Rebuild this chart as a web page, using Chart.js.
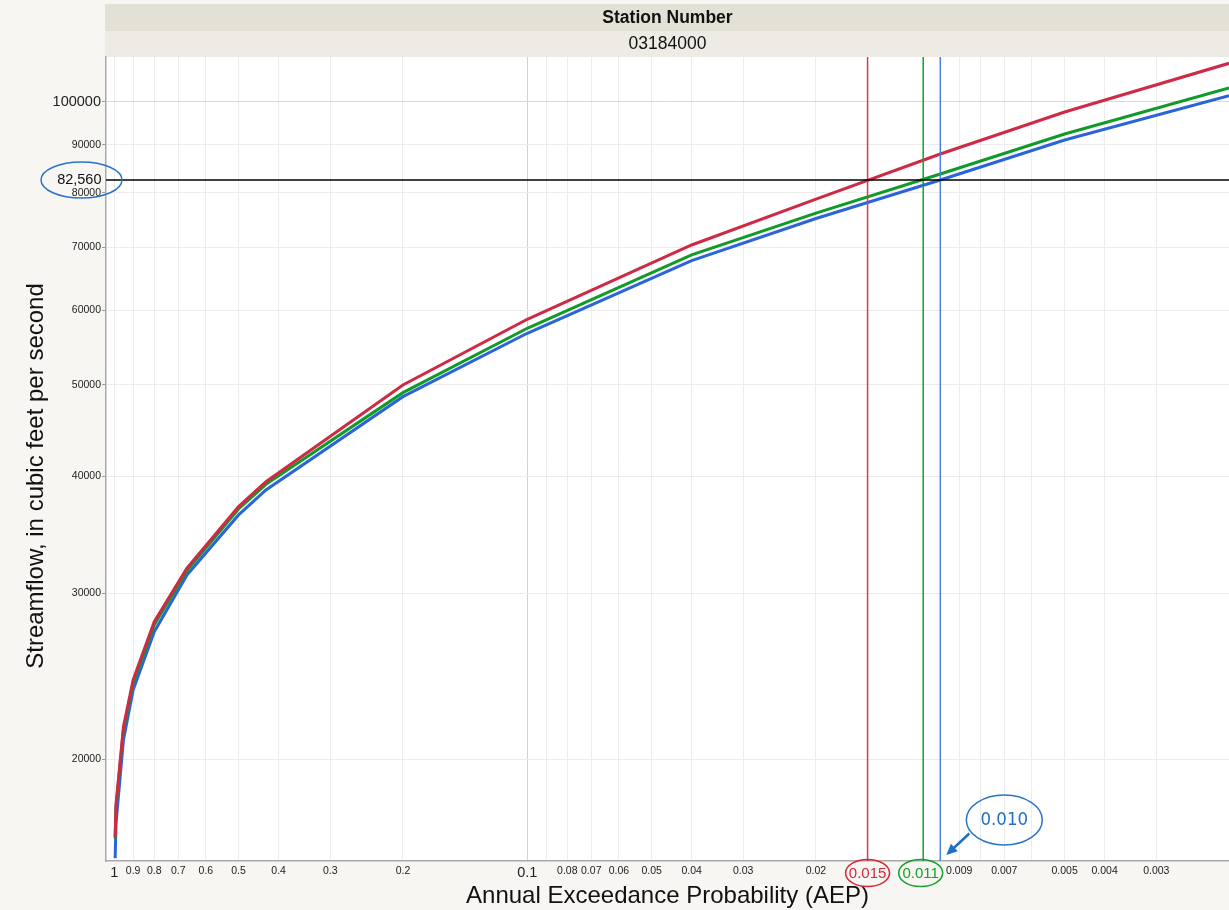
<!DOCTYPE html>
<html><head><meta charset="utf-8">
<script src="https://cdn.jsdelivr.net/npm/chart.js@4.4.0/dist/chart.umd.min.js"></script>
<style>html,body{margin:0;padding:0;background:#f7f6f2;overflow:hidden}canvas{display:block}</style>
</head><body>
<canvas id="c" width="1229" height="910"></canvas>
<script>
// ---------- data ----------
const headerTitle = 'Station Number';
const stationId = '03184000';
const xTitle = 'Annual Exceedance Probability (AEP)';
const yTitle = 'Streamflow, in cubic feet per second';

const aep = [0.995, 0.99, 0.95, 0.9, 0.8, 0.6667, 0.5, 0.4292, 0.2, 0.1, 0.04, 0.02, 0.01, 0.005, 0.002];
const redFlow   = [16540, 17900, 21650, 24280, 28010, 31920, 37120, 39450, 49990, 58710, 70420, 78800, 87990, 97510, 109850];
const greenFlow = [16460, 17800, 21500, 24100, 27800, 31750, 36900, 39200, 49060, 57430, 68720, 76130, 83780, 92400, 103410];
const blueFlow  = [15700, 17100, 20970, 23690, 27330, 31400, 36370, 38660, 48580, 56730, 67770, 75130, 82560, 91050, 101480];

const xTickValues = [1, 0.9, 0.8, 0.7, 0.6, 0.5, 0.4, 0.3, 0.2, 0.1, 0.09, 0.08, 0.07, 0.06, 0.05, 0.04, 0.03, 0.02, 0.01, 0.009, 0.008, 0.007, 0.006, 0.005, 0.004, 0.003];
const xTickLabels = ['1', '0.9', '0.8', '0.7', '0.6', '0.5', '0.4', '0.3', '0.2', '0.1', '', '0.08', '0.07', '0.06', '0.05', '0.04', '0.03', '0.02', '', '0.009', '', '0.007', '', '0.005', '0.004', '0.003'];
const yTickValues = [20000, 30000, 40000, 50000, 60000, 70000, 80000, 90000, 100000];
const yTickLabels = ['20000', '30000', '40000', '50000', '60000', '70000', '80000', '90000', '100000'];

const xMin = 0.002, xMax = 1.047;
const yMin = 15590, yMax = 111560;

const refFlow = 82560;
const markerAEP = [0.015, 0.011, 0.010];
const markerLabels = ['0.015', '0.011', '0.010'];

// ---------- styling ----------
const FONT = "'Liberation Sans', Arial, Helvetica, sans-serif";
const NARROW = "'Liberation Sans Narrow', 'DejaVu Sans Condensed', 'Liberation Sans', sans-serif";
const curveColors = ['#cf2a45', '#0e9b27', '#2b63d9'];
const markerLineColors = ['#d93a50', '#12a02b', '#4a80e0'];
const markerEllipseColors = ['#d8283a', '#14a02a', '#2a74c8'];

function pts(vals) { return aep.map((p, i) => ({ x: p, y: vals[i] })); }

const decor = {
  id: 'decor',
  beforeDraw(chart) {
    const { ctx, chartArea: a } = chart;
    ctx.save();
    ctx.fillStyle = '#f7f6f2';
    ctx.fillRect(0, 0, chart.width, chart.height);
    ctx.fillStyle = '#ffffff';
    ctx.fillRect(a.left, a.top, a.right - a.left, a.bottom - a.top);
    ctx.fillStyle = '#e3e0d5';
    ctx.fillRect(a.left - 1, 4, a.right - a.left + 1, 27);
    ctx.fillStyle = '#edebe4';
    ctx.fillRect(a.left - 1, 31, a.right - a.left + 1, a.top - 31);
    const cx = (a.left + a.right) / 2;
    ctx.fillStyle = '#111';
    ctx.textAlign = 'center';
    ctx.textBaseline = 'middle';
    ctx.font = 'bold 17.5px ' + FONT;
    ctx.fillText(headerTitle, cx, 18);
    ctx.font = '17.5px ' + FONT;
    ctx.fillText(stationId, cx, 44.5);
    ctx.translate(42.7, 476);
    ctx.rotate(-Math.PI / 2);
    ctx.textBaseline = 'alphabetic';
    ctx.font = '24px ' + FONT;
    ctx.fillText(yTitle, 0, 0);
    ctx.restore();
  },
  afterDatasetsDraw(chart) {
    const { ctx, chartArea: a, scales: { x: xs, y: ys } } = chart;
    ctx.save();
    markerAEP.forEach((p, i) => {
      const x = xs.getPixelForValue(p);
      ctx.strokeStyle = markerLineColors[i];
      ctx.lineWidth = 1.5;
      ctx.beginPath(); ctx.moveTo(x, a.top); ctx.lineTo(x, a.bottom); ctx.stroke();
    });
    const yH = ys.getPixelForValue(refFlow);
    ctx.strokeStyle = '#000';
    ctx.lineWidth = 1.5;
    ctx.beginPath(); ctx.moveTo(a.left, yH); ctx.lineTo(a.right, yH); ctx.stroke();
    ctx.restore();
  },
  afterDraw(chart) {
    const { ctx, chartArea: a, scales: { x: xs, y: ys } } = chart;
    ctx.save();
    // 82,560 ellipse on y axis
    const yH = ys.getPixelForValue(refFlow);
    ctx.strokeStyle = '#2a74c8';
    ctx.lineWidth = 1.5;
    ctx.beginPath(); ctx.ellipse(81.5, yH, 40.5, 18, 0, 0, Math.PI * 2); ctx.stroke();
    ctx.fillStyle = '#111';
    ctx.font = '14.5px ' + FONT;
    ctx.textAlign = 'right';
    ctx.textBaseline = 'middle';
    ctx.fillText(refFlow.toLocaleString('en-US'), 101.5, yH + 0.5);

    // bottom ellipses for first two markers
    const dx = [0, -2.5];
    for (let i = 0; i < 2; i++) {
      const x = xs.getPixelForValue(markerAEP[i]) + dx[i];
      ctx.strokeStyle = markerEllipseColors[i];
      ctx.lineWidth = 1.5;
      ctx.beginPath(); ctx.ellipse(x, a.bottom + 12, 22, 13.5, 0, 0, Math.PI * 2); ctx.stroke();
      ctx.fillStyle = markerEllipseColors[i];
      ctx.font = '15px ' + FONT;
      ctx.textAlign = 'center';
      ctx.fillText(markerLabels[i], x, a.bottom + 12.5);
    }
    // blue callout
    const xb = xs.getPixelForValue(markerAEP[2]);
    const ex = xb + 64, ey = a.bottom - 41;
    ctx.strokeStyle = markerEllipseColors[2];
    ctx.lineWidth = 1.5;
    ctx.beginPath(); ctx.ellipse(ex, ey, 38, 25, 0, 0, Math.PI * 2); ctx.stroke();
    ctx.fillStyle = '#1f6fc5';
    ctx.font = '18.5px ' + NARROW;
    ctx.textAlign = 'center';
    ctx.fillText(markerLabels[2], ex, ey + 0.5);
    // arrow
    const sx = xb + 29, sy = a.bottom - 27.5, tx = xb + 6, ty = a.bottom - 6;
    const ang = Math.atan2(ty - sy, tx - sx);
    ctx.strokeStyle = '#1f6fc5';
    ctx.lineWidth = 2.5;
    ctx.beginPath(); ctx.moveTo(sx, sy);
    ctx.lineTo(tx - 8 * Math.cos(ang), ty - 8 * Math.sin(ang)); ctx.stroke();
    ctx.fillStyle = '#1f6fc5';
    ctx.beginPath();
    ctx.moveTo(tx, ty);
    ctx.lineTo(tx - 11 * Math.cos(ang) + 5 * Math.sin(ang), ty - 11 * Math.sin(ang) - 5 * Math.cos(ang));
    ctx.lineTo(tx - 11 * Math.cos(ang) - 5 * Math.sin(ang), ty - 11 * Math.sin(ang) + 5 * Math.cos(ang));
    ctx.closePath(); ctx.fill();
    ctx.restore();
  }
};

const isMajorX = v => v === 1 || Math.abs(v - 0.1) < 1e-12;

new Chart(document.getElementById('c'), {
  type: 'line',
  data: {
    datasets: [
      { label: 'Red curve', data: pts(redFlow), borderColor: curveColors[0], borderWidth: 3, pointRadius: 0, fill: false, tension: 0 },
      { label: 'Green curve', data: pts(greenFlow), borderColor: curveColors[1], borderWidth: 3, pointRadius: 0, fill: false, tension: 0 },
      { label: 'Blue curve', data: pts(blueFlow), borderColor: curveColors[2], borderWidth: 3, pointRadius: 0, fill: false, tension: 0 }
    ]
  },
  options: {
    responsive: false,
    animation: false,
    devicePixelRatio: 1,
    layout: { padding: { top: 57, left: 0, right: 0, bottom: 0 } },
    plugins: { legend: { display: false }, tooltip: { enabled: false }, title: { display: false } },
    scales: {
      x: {
        type: 'logarithmic', reverse: true, min: xMin, max: xMax, position: 'bottom',
        afterBuildTicks: s => { s.ticks = xTickValues.map(v => ({ value: v })); },
        afterFit: s => { s.height = 49; },
        ticks: {
          autoSkip: false, maxRotation: 0, minRotation: 0, padding: 3.5, color: '#222',
          font: c => ({ family: FONT, size: (c.tick && isMajorX(c.tick.value)) ? 14.5 : 10.5 }),
          callback: (v, i) => xTickLabels[i]
        },
        grid: {
          drawTicks: false, lineWidth: 1,
          color: c => (c.tick && Math.abs(c.tick.value - 0.1) < 1e-12) ? '#d2d2d2' : '#ececec'
        },
        border: { color: '#a9a9a9', width: 1.5 },
        title: { display: true, text: xTitle, color: '#111', font: { family: FONT, size: 24, lineHeight: 1 }, padding: { top: 0, bottom: 1.3 } }
      },
      y: {
        type: 'logarithmic', min: yMin, max: yMax,
        afterBuildTicks: s => { s.ticks = yTickValues.map(v => ({ value: v })); },
        afterFit: s => { s.width = 106; },
        ticks: {
          autoSkip: false, padding: 1, color: '#222',
          font: c => ({ family: FONT, size: (c.tick && c.tick.value === 100000) ? 14.5 : 10.5 }),
          callback: (v, i) => yTickLabels[i]
        },
        grid: {
          tickLength: 4, tickColor: '#9a9a9a', drawTicks: true, lineWidth: 1,
          color: c => (c.tick && c.tick.value === 100000) ? '#d9d9d9' : '#ececec'
        },
        border: { color: '#a9a9a9', width: 1.5 }
      }
    }
  },
  plugins: [decor]
});
</script>
</body></html>
